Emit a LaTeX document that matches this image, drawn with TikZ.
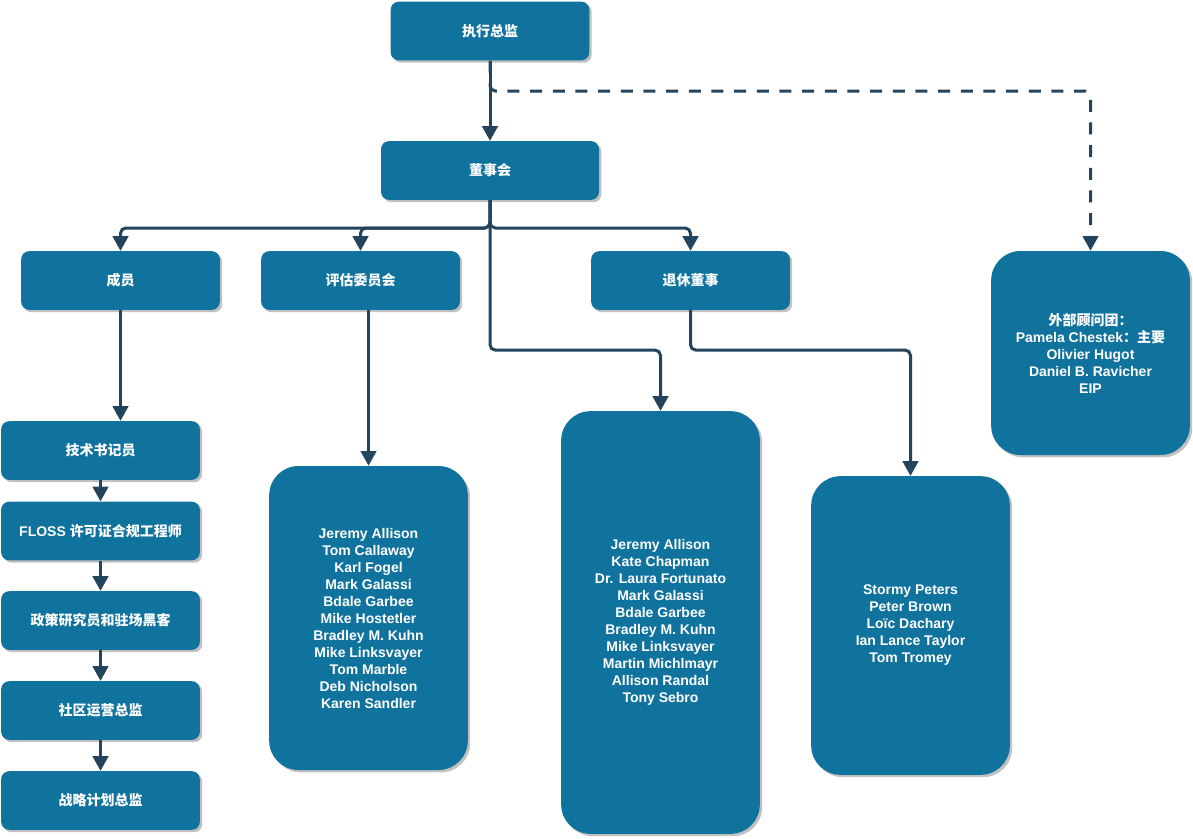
\documentclass[tikz,border=0pt]{standalone}
\usepackage{fontspec}
\setmainfont{Liberation Sans}
\newfontfamily\zhfont{Noto Sans CJK SC}
\newcommand{\zh}[1]{{\zhfont #1}}
\usetikzlibrary{positioning,arrows.meta,shadows}
\definecolor{boxblue}{HTML}{10739E}
\definecolor{linkblue}{HTML}{23445D}
\tikzset{role/.style={rectangle, rounded corners=6pt, fill=boxblue, text=white,
    minimum width=149pt, minimum height=44pt, align=center,
    font=\bfseries\fontsize{10.5}{12.75}\selectfont,
    drop shadow={shadow xshift=1.8pt, shadow yshift=-1.8pt, fill=black!35, opacity=0.7}},
  panel/.style={role, rounded corners=22pt},
  link/.style={->, draw=linkblue, line width=2.25pt, rounded corners=4pt}
}

\begin{document}
\begin{tikzpicture}[x=0.75pt, y=-0.75pt, >={Triangle[width=11.5pt,length=11pt]}]
	\useasboundingbox (0,0) rectangle (1193,839);
	\node[role] (Exec) at (490,31) {\zh{执行总监}};
	\node[role,minimum width=163.5pt] (Board) at (490,170.5) {\zh{董事会}};
	\node[role] (Members) at (120.5,280.5) {\zh{成员}};
	\node[role] (Eval) at (360.5,280.5) {\zh{评估委员会}};
	\node[role] (Emer) at (690.5,280.5) {\zh{退休董事}};
	\node[panel,minimum height=153pt] (Advise) at (1090.5,353) {\zh{外部顾问团：}\\Pamela Chestek\zh{：主要}\\Olivier Hugot\\Daniel B. Ravicher\\EIP};
	\node[role] (T1) at (100.5,450.5) {\zh{技术书记员}};
	\node[role] (T2) at (100.5,531) {FLOSS \zh{许可证合规工程师}};
	\node[role] (T3) at (100.5,620.5) {\zh{政策研究员和驻场黑客}};
	\node[role] (T4) at (100.5,710.5) {\zh{社区运营总监}};
	\node[role] (T5) at (100.5,800.5) {\zh{战略计划总监}};
	\node[panel,minimum height=228pt] (Elist) at (368.5,618) {Jeremy Allison\\Tom Callaway\\Karl Fogel\\Mark Galassi\\Bdale Garbee\\Mike Hostetler\\Bradley M. Kuhn\\Mike Linksvayer\\Tom Marble\\Deb Nicholson\\Karen Sandler};
	\node[panel,minimum height=317pt] (Dir) at (660.5,622.5) {Jeremy Allison\\Kate Chapman\\Dr. Laura Fortunato\\Mark Galassi\\Bdale Garbee\\Bradley M. Kuhn\\Mike Linksvayer\\Martin Michlmayr\\Allison Randal\\Tony Sebro};
	\node[panel,minimum height=224pt] (Rlist) at (910.5,625.5) {Stormy Peters\\Peter Brown\\Loïc Dachary\\Ian Lance Taylor\\Tom Tromey};
	\coordinate (Split) at (490,91);
	\coordinate (Fork) at (490,228);
	\draw [link] (Exec) -- (Board);
	\draw [link,dash pattern=on 9pt off 8pt] (Exec.south) -- (Split) -| (Advise.north);
	\draw [link] (Board.south) -- (Fork) -| (Members.north);
	\draw [link] (Board.south) -- (Fork) -| (Eval.north);
	\draw [link] (Board.south) -- (Fork) -| (Emer.north);
	\draw [link] (Board.south) -- ++(0,150) -| (Dir.north);
	\draw [link] (Emer.south) -- ++(0,40) -| (Rlist.north);
	\draw [link] (Eval.south -| Elist.north) -- (Elist.north);
	\draw [link] (Members.south) -- (Members.south |- T1.north);
	\foreach \a/\b in {T1/T2,T2/T3,T3/T4,T4/T5}
		\draw [link] (\a) -- (\b);
\end{tikzpicture}
\end{document}
